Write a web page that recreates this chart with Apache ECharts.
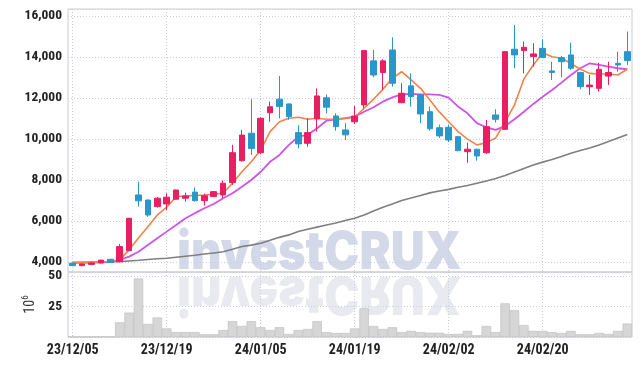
<!DOCTYPE html>
<html><head><meta charset="utf-8">
<script src="https://cdn.jsdelivr.net/npm/echarts@6/dist/echarts.min.js"></script>
<style>html,body{margin:0;padding:0;background:#fff}#c{width:642px;height:366px}</style>
</head><body><div id="c"></div>
<script>
const dates = ['23/12/05','23/12/06','23/12/07','23/12/08','23/12/11','23/12/12','23/12/13','23/12/14','23/12/15','23/12/18',
'23/12/19','23/12/20','23/12/21','23/12/22','23/12/26','23/12/27','23/12/28','24/01/02','24/01/03','24/01/04',
'24/01/05','24/01/08','24/01/09','24/01/10','24/01/11','24/01/12','24/01/15','24/01/16','24/01/17','24/01/18',
'24/01/19','24/01/22','24/01/23','24/01/24','24/01/25','24/01/26','24/01/29','24/01/30','24/01/31','24/02/01',
'24/02/02','24/02/05','24/02/06','24/02/07','24/02/08','24/02/13','24/02/14','24/02/15','24/02/16','24/02/19',
'24/02/20','24/02/21','24/02/22','24/02/23','24/02/26','24/02/27','24/02/28','24/02/29','24/03/04','24/03/05'];
const open  = [3940,3820,3880,3950,4130,4010,4550,7270,7020,6700, 6830,7060,7110,7410,6990,7190,7270,7870,8940,10280,
 9330,11280,11940,11710,10310,9790,10980,12010,11120,10440, 10840,11660,13810,13240,14340,11770,12590,12150,11330,10550,
 10570,10110,9380,9500,9330,11170,10470,14380,14310,14020, 14420,13320,13970,14100,13240,12550,12470,13070,13690,14260];
const close = [3820,3900,3950,4090,3970,4750,6130,6980,6290,7110, 7160,7510,7220,6990,7230,7430,7840,9330,10190,9530,
 11010,11570,11580,11090,9760,10310,12100,11550,10600,10200, 11120,14310,13120,13810,12720,12230,12070,11220,10500,10150,
 9950,9430,9500,9170,10600,10960,14260,14100,14470,14150, 13980,13240,13770,13450,12550,12630,13400,13240,13610,13820];
const low   = [3800,3790,3860,3940,3960,3990,4530,6700,6200,6650, 6540,7040,6940,6940,6750,7170,7120,7760,8900,9220,
 9250,10840,11010,10930,9550,9620,10360,11250,10400,9950, 10730,11500,13010,12390,12550,11750,11580,10770,10400,10050,
 9850,9400,8840,8940,9270,10800,10450,13450,13200,13530, 13940,12880,13010,13370,12420,12150,12310,12630,13280,13610];
const high  = [3960,3920,3970,4100,4150,4870,6150,7920,7050,7170, 7350,7530,7380,7640,7330,7460,7970,9710,10440,11940,
 11050,11820,13070,11730,10660,11010,12470,12170,11250,10770, 11610,14340,14340,13890,14960,12720,13200,12200,11580,10700,
 10700,10150,9820,9520,10930,11450,14290,15560,14750,14670, 14860,13770,14050,14700,13280,13120,13720,13770,14260,15240];
const ma5  = [3980,3980,3990,4000,4020,4100,4590,5170,5720,6290, 6670,7190,7220,7250,7270,7300,7350,7840,8400,8890,
 9460,10360,10840,11010,11060,10960,11010,10960,10960,11010, 11060,11500,11940,12420,12960,13280,12880,12470,11900,11320,
 10840,10360,9990,9710,9820,10050,10830,11660,12930,13610, 14210,14010,13940,13690,13400,13200,13170,13170,13120,13400];
const ma20 = [3960,3965,3970,3975,3990,4100,4260,4500,4830,5160, 5480,5800,6130,6380,6620,6830,7110,7350,7670,8000,
 8400,8890,9220,9710,10110,10200,10520,10890,10960,11010, 11090,11330,11550,11820,12030,12180,12200,12180,12180,12150,
 12020,11580,11250,10770,10570,10440,10630,10960,11330,11710, 12060,12390,12750,13120,13450,13690,13610,13530,13450,13400];
const ma60 = [3970,3970,3980,3990,4000,4020,4050,4080,4120,4160, 4180,4230,4280,4330,4390,4440,4500,4620,4750,4820,
 4910,5060,5200,5320,5490,5600,5700,5800,5900,6020, 6130,6290,6490,6670,6830,7000,7120,7240,7370,7460,
 7540,7640,7730,7840,7950,8070,8220,8390,8560,8730, 8870,9000,9150,9300,9440,9560,9710,9880,10050,10220];
const volume = [0.2,0.2,0.2,0.3,0.3,12,20,48,10.7,16, 7,4,4,4,2.2,2.2,5.7,13,9,13,
 8,5.7,8,2.5,5.7,6.5,13,4,3.3,3.3, 7,23.5,9,6.5,8,4,5,4,3.5,3.5,
 2.5,2.5,5,1.4,9,4,27.6,22,9.8,5, 5,4,3.3,5,2.2,2.2,3.3,2.5,5,11];

const FONT = '"Roboto Condensed","DejaVu Sans Condensed",sans-serif';
const UP = '#e91e63', DOWN = '#2a97c9';
const candle = dates.map((d, i) => [open[i], close[i], low[i], high[i]]);
const gridLine = {color: '#c9cde0', type: [1, 2], width: 1};
const WM_FONT = '900 47px Inter, "Noto Sans", sans-serif';

const chart = echarts.init(document.getElementById('c'));
chart.setOption({
  animation: false,
  backgroundColor: '#fff',
  graphic: [
    {type: 'text', z: -10, x: 177, y: 253, scaleX: 1, scaleY: 1.12, originX: 0, originY: 0,
     style: {text: 'investCRUX', font: WM_FONT, fill: '#d3d9e9', align: 'left', verticalAlign: 'middle'}},
    {type: 'text', z: -10, x: 177, y: 293, scaleX: 1, scaleY: -1.12, originX: 0, originY: 0,
     style: {text: 'investCRUX', font: WM_FONT, fill: '#e9e9f0', align: 'left', verticalAlign: 'middle'}}
  ],
  grid: [
    {left: 68, right: 10, top: 9, height: 263, show: true, borderColor: '#cccccc', borderWidth: 1},
    {left: 68, right: 10, top: 272, height: 65, show: true, borderColor: '#cccccc', borderWidth: 1}
  ],
  xAxis: [
    {type: 'category', gridIndex: 0, data: dates, boundaryGap: true,
     axisLine: {show: false}, axisTick: {show: false}, axisLabel: {show: false},
     splitLine: {show: true, interval: 9, alignWithLabel: true, lineStyle: gridLine}},
    {type: 'category', gridIndex: 1, data: dates, boundaryGap: true,
     axisLine: {show: false}, axisTick: {show: false},
     axisLabel: {show: true, interval: 9, margin: 6, color: '#222', fontFamily: FONT, fontWeight: 'bold', fontSize: 14},
     splitLine: {show: true, interval: 9, alignWithLabel: true, lineStyle: gridLine}}
  ],
  yAxis: [
    {type: 'value', gridIndex: 0, min: 3510, max: 16340, splitNumber: 6,
     axisLine: {show: false}, axisTick: {show: false},
     axisLabel: {margin: 6, color: '#222', fontFamily: FONT, fontWeight: 'bold', fontSize: 13.5,
       showMinLabel: true, showMaxLabel: true,
       formatter: v => (v % 2000 === 0) ? v.toLocaleString('en-US') : ''},
     splitLine: {lineStyle: gridLine}},
    {type: 'value', gridIndex: 1, min: 0, max: 53.3, interval: 25,
     axisLine: {show: false}, axisTick: {show: false},
     axisLabel: {margin: 6, color: '#222', fontFamily: FONT, fontWeight: 'bold', fontSize: 13.5,
       formatter: v => (v === 25 || v === 50) ? String(v) : ''},
     splitLine: {lineStyle: gridLine},
     name: '{a|10}{b|6}', nameLocation: 'middle', nameRotate: 90, nameGap: 20,
     nameTextStyle: {rich: {
       a: {fontFamily: FONT, fontSize: 14, color: '#333', verticalAlign: 'bottom', lineHeight: 16},
       b: {fontFamily: FONT, fontSize: 9, color: '#333', verticalAlign: 'top', lineHeight: 16}}}}
  ],
  series: [
    {type: 'candlestick', xAxisIndex: 0, yAxisIndex: 0, data: candle, barWidth: 6, z: 3,
     itemStyle: {color: UP, color0: DOWN, borderColor: UP, borderColor0: DOWN, borderWidth: 1}},
    {type: 'line', xAxisIndex: 0, yAxisIndex: 0, data: ma60, symbol: 'none', z: 2,
     lineStyle: {color: '#7f7f7f', width: 1.6}},
    {type: 'line', xAxisIndex: 0, yAxisIndex: 0, data: ma20, symbol: 'none', z: 2,
     lineStyle: {color: '#cc55e8', width: 1.8}},
    {type: 'line', xAxisIndex: 0, yAxisIndex: 0, data: ma5, symbol: 'none', z: 2,
     lineStyle: {color: '#f0824a', width: 1.6}},
    {type: 'bar', xAxisIndex: 1, yAxisIndex: 1, data: volume, barCategoryGap: '0%',
     itemStyle: {color: '#d6d6d6', borderColor: '#bcbcbc', borderWidth: 0.6}}
  ]
});
</script></body></html>
